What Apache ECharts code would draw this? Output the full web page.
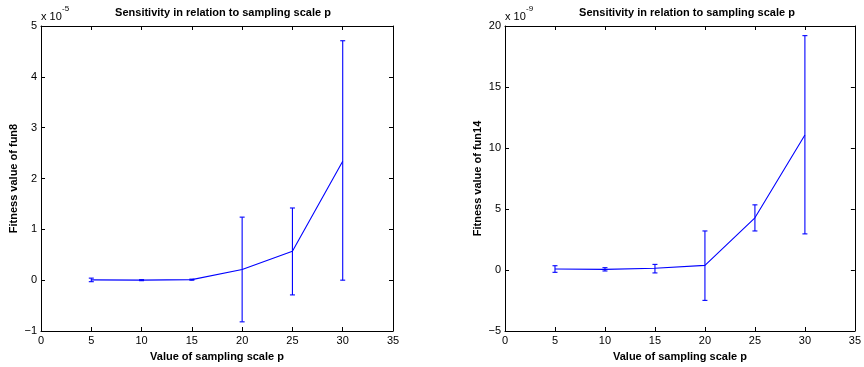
<!DOCTYPE html>
<html>
<head>
<meta charset="utf-8">
<script src="https://cdn.jsdelivr.net/npm/echarts@6/dist/echarts.min.js"></script>
<style>
html,body{margin:0;padding:0;background:#fff;}
#c{width:864px;height:367px;}
</style>
</head>
<body>
<div id="c"></div>
<script>
// sampling scale p
const pValues = [5, 10, 15, 20, 25, 30];
// fun8 (units of 1e-5)
const fun8Mean = [0.005, 0.0, 0.01, 0.21, 0.57, 2.34];
const fun8Low  = [-0.03, -0.01, 0.0, -0.82, -0.29, 0.0];
const fun8High = [0.04, 0.01, 0.02, 1.24, 1.42, 4.71];
// fun14 (units of 1e-9)
const fun14Mean = [0.08, 0.05, 0.14, 0.38, 4.28, 11.06];
const fun14Low  = [-0.19, -0.08, -0.24, -2.49, 3.2, 2.96];
const fun14High = [0.35, 0.19, 0.46, 3.2, 5.34, 19.21];

const titleText = 'Sensitivity in relation to sampling scale p';
const xName = 'Value of sampling scale p';
const yNames = ['Fitness value of fun8', 'Fitness value of fun14'];
const exps = ['-5', '-9'];

const FONT = 'Liberation Sans, Arial, Helvetica, sans-serif';
const BLUE = '#0000ff';

const chart = echarts.init(document.getElementById('c'), null, {renderer: 'canvas'});

const grids = [
  {left: 41, right: 471, top: 26, bottom: 34},
  {left: 505, right: 7, top: 26, bottom: 34}
];
const yRanges = [{min: -1, max: 5, interval: 1}, {min: -5, max: 20, interval: 5}];

const xAxes = [], yAxes = [], series = [], titles = [], graphics = [];
const lineStyle = {color: '#000', width: 1};
const axisLine = {show: true, onZero: false, lineStyle};
for (let g = 0; g < 2; g++) {
  xAxes.push({
    type: 'value', gridIndex: g, min: 0, max: 35, interval: 5, position: 'bottom',
    axisLine, axisTick: {inside: true, length: 4, lineStyle},
    axisLabel: {color: '#000', fontSize: 11, fontFamily: FONT, margin: 4},
    splitLine: {show: false},
    name: xName, nameLocation: 'middle', nameGap: 20,
    nameTextStyle: {color: '#000', fontSize: 11, fontWeight: 'bold', fontFamily: FONT}
  });
  xAxes.push({
    type: 'value', gridIndex: g, min: 0, max: 35, interval: 5, position: 'top',
    axisLine, axisTick: {inside: true, length: 4, lineStyle},
    axisLabel: {show: false}, splitLine: {show: false}
  });
  yAxes.push({
    type: 'value', gridIndex: g, min: yRanges[g].min, max: yRanges[g].max, interval: yRanges[g].interval,
    position: 'left',
    axisLine, axisTick: {inside: true, length: 4, lineStyle},
    axisLabel: {color: '#000', fontSize: 11, fontFamily: FONT, margin: 4,
      formatter: v => (v < 0 ? '\u2212' + (-v) : String(v))},
    splitLine: {show: false},
    name: yNames[g], nameLocation: 'middle', nameGap: 22,
    nameTextStyle: {color: '#000', fontSize: 11, fontWeight: 'bold', fontFamily: FONT}
  });
  yAxes.push({
    type: 'value', gridIndex: g, min: yRanges[g].min, max: yRanges[g].max, interval: yRanges[g].interval,
    position: 'right',
    axisLine, axisTick: {inside: true, length: 4, lineStyle},
    axisLabel: {show: false}, splitLine: {show: false}
  });
}

const means = [fun8Mean, fun14Mean], lows = [fun8Low, fun14Low], highs = [fun8High, fun14High];
for (let g = 0; g < 2; g++) {
  series.push({
    type: 'line', xAxisIndex: g * 2, yAxisIndex: g * 2,
    data: pValues.map((p, i) => [p, means[g][i]]),
    showSymbol: false, symbol: 'none',
    lineStyle: {color: BLUE, width: 1.1}, animation: false, z: 3
  });
  series.push({
    type: 'custom', xAxisIndex: g * 2, yAxisIndex: g * 2,
    data: pValues.map((p, i) => [p, lows[g][i], highs[g][i]]),
    animation: false, z: 4,
    renderItem: function (params, api) {
      const x = api.value(0);
      const lo = api.coord([x, api.value(1)]);
      const hi = api.coord([x, api.value(2)]);
      const hw = 2.5;
      const st = {stroke: BLUE, lineWidth: 1.1};
      return {
        type: 'group',
        children: [
          {type: 'line', shape: {x1: lo[0], y1: lo[1], x2: hi[0], y2: hi[1]}, style: st},
          {type: 'line', shape: {x1: lo[0] - hw, y1: lo[1], x2: lo[0] + hw, y2: lo[1]}, style: st},
          {type: 'line', shape: {x1: hi[0] - hw, y1: hi[1], x2: hi[0] + hw, y2: hi[1]}, style: st}
        ]
      };
    }
  });
  const cx = g === 0 ? 218 : 682;
  titles.push({
    text: titleText, left: cx, top: 2, textAlign: 'center',
    textStyle: {color: '#000', fontSize: 11, fontWeight: 'bold', fontFamily: FONT}
  });
  const ex = grids[g].left;
  graphics.push({
    type: 'text', left: ex, top: 11,
    style: {text: 'x 10', fill: '#000', font: '11px ' + FONT}
  });
  graphics.push({
    type: 'text', left: ex + 21, top: 5,
    style: {text: exps[g], fill: '#000', font: '8px ' + FONT}
  });
}

chart.setOption({
  backgroundColor: '#fff',
  animation: false,
  title: titles,
  grid: grids,
  xAxis: xAxes,
  yAxis: yAxes,
  series: series,
  graphic: graphics
});
</script>
</body>
</html>
